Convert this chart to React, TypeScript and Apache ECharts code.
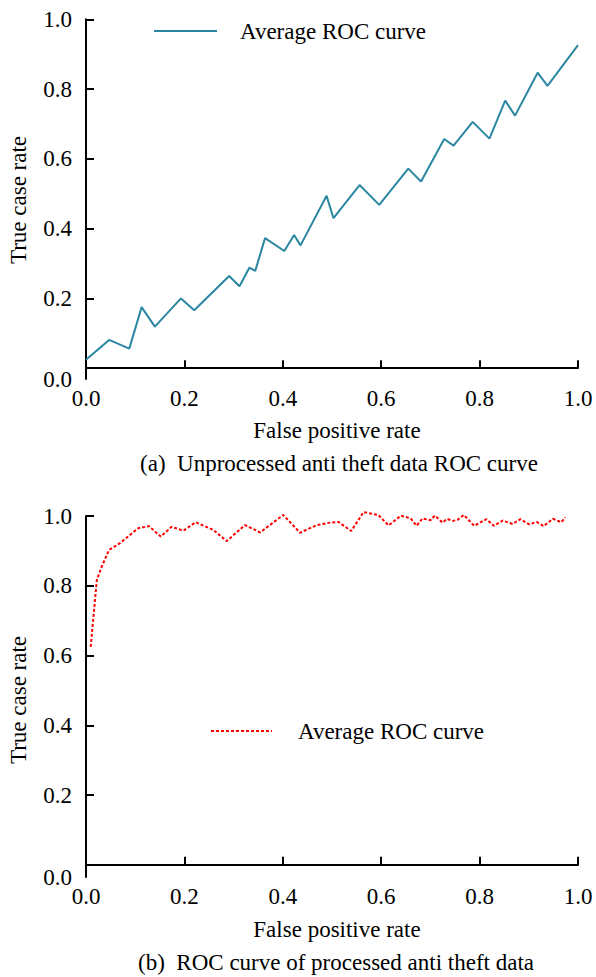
import React, { useEffect, useRef } from "react";
import * as echarts from "echarts";

// (a) unprocessed data ROC curve
const fprA = [0, 0.047, 0.088, 0.113, 0.14, 0.193, 0.22, 0.291, 0.312, 0.332, 0.344, 0.364, 0.403, 0.423, 0.436, 0.489, 0.503, 0.556, 0.596, 0.655, 0.681, 0.728, 0.747, 0.786, 0.82, 0.852, 0.872, 0.918, 0.938, 1.0];
const tprA = [0.024, 0.081, 0.056, 0.175, 0.119, 0.2, 0.166, 0.264, 0.235, 0.288, 0.279, 0.373, 0.336, 0.382, 0.352, 0.494, 0.43, 0.525, 0.468, 0.572, 0.535, 0.657, 0.638, 0.706, 0.658, 0.767, 0.724, 0.847, 0.809, 0.926];

// (b) processed data ROC curve
const fprB = [0.0095, 0.022, 0.032, 0.047, 0.069, 0.106, 0.128, 0.152, 0.174, 0.198, 0.223, 0.259, 0.286, 0.323, 0.354, 0.401, 0.435, 0.469, 0.496, 0.513, 0.539, 0.564, 0.594, 0.615, 0.64, 0.66, 0.672, 0.684, 0.7, 0.709, 0.725, 0.734, 0.746, 0.755, 0.768, 0.789, 0.814, 0.829, 0.847, 0.867, 0.883, 0.901, 0.916, 0.93, 0.949, 0.966, 0.974];
const tprB = [0.625, 0.816, 0.855, 0.903, 0.922, 0.965, 0.971, 0.941, 0.969, 0.958, 0.982, 0.96, 0.928, 0.974, 0.953, 1.003, 0.952, 0.974, 0.981, 0.983, 0.957, 1.011, 1.003, 0.973, 1.001, 0.993, 0.972, 0.993, 0.988, 1.001, 0.981, 0.992, 0.986, 0.989, 1.003, 0.972, 0.991, 0.972, 0.987, 0.977, 0.991, 0.976, 0.983, 0.971, 0.992, 0.982, 0.996];

const tickValues = [0.2, 0.4, 0.6, 0.8, 1.0];
const legendName = "Average ROC curve";
const xTitle = "False positive rate";
const yTitle = "True case rate";
const captionA = "(a)  Unprocessed anti theft data ROC curve";
const captionB = "(b)  ROC curve of processed anti theft data";

const FONT = "Liberation Serif";
const FS = 23;

export default function App() {
  const ref = useRef<HTMLDivElement>(null);
  useEffect(() => {
    if (!ref.current) return;
    const chart = echarts.init(ref.current, null, { renderer: "svg" });
    const minA = -0.031;
    const minB = -0.035;
    const xAxisCommon = {
      type: "value",
      min: 0,
      max: 1,
      interval: 0.2,
      splitLine: { show: false },
      axisLine: { show: true, lineStyle: { color: "#000", width: 2 } },
      axisTick: { show: true, inside: true, length: 8, lineStyle: { color: "#000", width: 2 } },
      axisLabel: {
        color: "#000",
        fontFamily: FONT,
        fontSize: FS,
        margin: 8,
        formatter: (v: number) => v.toFixed(1),
      },
    };
    const yAxis = (min: number, gridIndex: number) => ({
      type: "value",
      gridIndex,
      min,
      max: 1,
      splitLine: { show: false },
      axisLine: { show: true, lineStyle: { color: "#000", width: 2 } },
      axisTick: {
        show: true,
        inside: true,
        length: 8,
        customValues: tickValues,
        lineStyle: { color: "#000", width: 2 },
      },
      axisLabel: {
        color: "#000",
        fontFamily: FONT,
        fontSize: FS,
        margin: 14,
        customValues: [min, ...tickValues],
        formatter: (v: number) => (v < 0.1 ? "0.0" : v.toFixed(1)),
      },
    });
    const textStyle = { fill: "#000", fontFamily: FONT, fontSize: FS };
    chart.setOption({
      animation: false,
      backgroundColor: "#fff",
      grid: [
        { left: 86, right: 18, top: 19.3, height: 359.7 },
        { left: 86, right: 18, top: 516, height: 361 },
      ],
      xAxis: [
        { ...xAxisCommon, gridIndex: 0 },
        { ...xAxisCommon, gridIndex: 1 },
      ],
      yAxis: [yAxis(minA, 0), yAxis(minB, 1)],
      legend: [
        {
          data: ["a"],
          left: 153,
          top: 19,
          padding: 0,
          itemWidth: 63,
          itemHeight: 14,
          itemStyle: { opacity: 0 },
          formatter: () => legendName,
          textStyle: { fontFamily: FONT, fontSize: FS, color: "#000", padding: [0, 0, 0, 18], lineHeight: 24 },
        },
        {
          data: ["b"],
          left: 210,
          top: 719,
          padding: 0,
          itemWidth: 61,
          itemHeight: 14,
          itemStyle: { opacity: 0 },
          formatter: () => legendName,
          textStyle: { fontFamily: FONT, fontSize: FS, color: "#000", padding: [0, 0, 0, 21], lineHeight: 24 },
        },
      ],
      series: [
        {
          name: "a",
          type: "line",
          xAxisIndex: 0,
          yAxisIndex: 0,
          symbol: "none",
          clip: false,
          lineStyle: { color: "#2b87a1", width: 2 },
          itemStyle: { color: "#2b87a1" },
          data: fprA.map((x, i) => [x, tprA[i]]),
        },
        {
          name: "b",
          type: "line",
          xAxisIndex: 1,
          yAxisIndex: 1,
          symbol: "none",
          clip: false,
          lineStyle: { color: "#ff0000", width: 2, type: [3, 2] },
          itemStyle: { color: "#ff0000" },
          data: fprB.map((x, i) => [x, tprB[i]]),
        },
      ],
      graphic: [
        { type: "text", x: 337, y: 430, style: { ...textStyle, text: xTitle, textAlign: "center", textVerticalAlign: "middle" } },
        { type: "text", x: 339, y: 463, style: { ...textStyle, text: captionA, textAlign: "center", textVerticalAlign: "middle" } },
        { type: "text", x: 337, y: 929, style: { ...textStyle, text: xTitle, textAlign: "center", textVerticalAlign: "middle" } },
        { type: "text", x: 336, y: 962, style: { ...textStyle, text: captionB, textAlign: "center", textVerticalAlign: "middle" } },
        { type: "text", x: 18, y: 200, rotation: Math.PI / 2, style: { ...textStyle, text: yTitle, textAlign: "center", textVerticalAlign: "middle" } },
        { type: "text", x: 18, y: 700, rotation: Math.PI / 2, style: { ...textStyle, text: yTitle, textAlign: "center", textVerticalAlign: "middle" } },
      ],
    });
    return () => chart.dispose();
  }, []);
  return (
    <div
      ref={ref}
      style={{ position: "fixed", left: 0, top: 0, width: 596, height: 977, background: "#fff" }}
    />
  );
}
